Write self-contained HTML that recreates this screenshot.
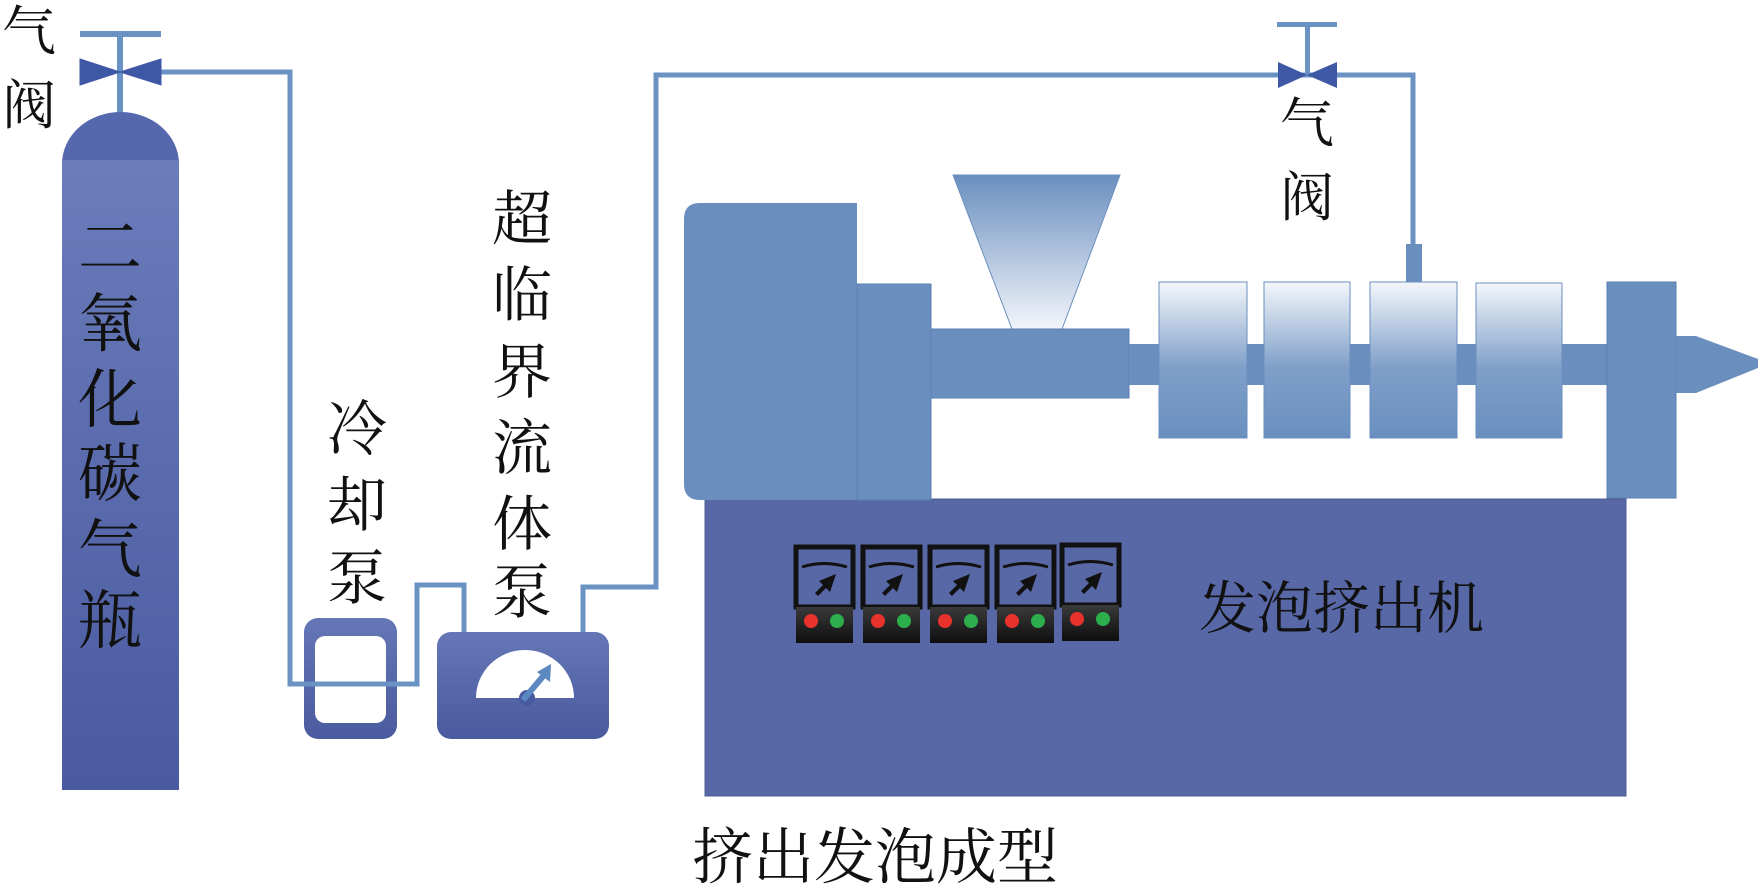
<!DOCTYPE html>
<html><head><meta charset="utf-8"><style>
html,body{margin:0;padding:0;background:#fff;}
svg{display:block;}
text{font-family:"Liberation Serif","Noto Serif CJK SC","Noto Sans CJK SC",serif;fill:#111;}
</style></head><body>
<svg width="1758" height="885" viewBox="0 0 1758 885" xmlns="http://www.w3.org/2000/svg">
<defs>
<linearGradient id="cyl" x1="0" y1="0" x2="0" y2="1"><stop offset="0" stop-color="#6a7cba"/><stop offset="1" stop-color="#4a5aa0"/></linearGradient>
<linearGradient id="pump" x1="0" y1="0" x2="0" y2="1"><stop offset="0" stop-color="#6577b6"/><stop offset="1" stop-color="#4a5a9e"/></linearGradient>
<linearGradient id="band" x1="0" y1="0" x2="0" y2="1"><stop offset="0" stop-color="#f4f7fb"/><stop offset="0.55" stop-color="#7f9fc9"/><stop offset="1" stop-color="#6a8fbf"/></linearGradient>
<linearGradient id="hop" x1="0" y1="0" x2="0" y2="1"><stop offset="0" stop-color="#6a8fbf"/><stop offset="1" stop-color="#f2f5fa"/></linearGradient>
<linearGradient id="ctl" x1="0" y1="0" x2="0" y2="1"><stop offset="0" stop-color="#3a3a3a"/><stop offset="1" stop-color="#0e0e0e"/></linearGradient>
</defs>

<g fill="none" stroke="#6a93c4" stroke-width="5">
<polyline points="160,72 290,72 290,684 417,684 417,585 464,585 464,634"/>
<polyline points="583,634 583,587 656,587 656,75 1413,75 1413,246"/>
</g>

<g fill="#3f58a6" stroke="#3f58a6">
<rect x="80" y="31" width="81" height="6" fill="#6a93c4" stroke="none"/>
<rect x="117" y="34" width="6" height="80" fill="#6a93c4" stroke="none"/>
<polygon points="80,59 120,72 80,85" />
<polygon points="161,59 120,72 161,85" />
</g>

<path d="M62,164 A58.5,52 0 0 1 179,164 Z" fill="#5567ad"/>
<rect x="62" y="160" width="117" height="630" fill="url(#cyl)"/>
<g font-size="64" text-anchor="middle">
<text x="110" y="270">二</text><text x="110" y="346">氧</text><text x="110" y="422">化</text>
<text x="110" y="496">碳</text><text x="110" y="572">气</text><text x="110" y="643">瓶</text>
</g>
<text x="2" y="50" font-size="54">气</text>
<text x="2" y="124" font-size="54">阀</text>

<rect x="304" y="618" width="93" height="121" rx="14" fill="url(#pump)"/>
<rect x="315" y="636" width="71" height="87" rx="10" fill="#fff"/>
<polyline points="290,684 417,684" stroke="#6a93c4" stroke-width="5" fill="none"/>

<rect x="437" y="632" width="172" height="107" rx="14" fill="url(#pump)"/>
<path d="M476,698 A49,48 0 0 1 574,698 Z" fill="#fff"/>
<circle cx="527" cy="698" r="8" fill="#4a5aa0"/>
<line x1="523" y1="700" x2="545" y2="674" stroke="#5b88c0" stroke-width="6"/>
<polygon points="551,664 537,672 550,682" fill="#5b88c0"/>

<g font-size="60" text-anchor="middle">
<text x="357" y="450">冷</text><text x="357" y="526">却</text><text x="357" y="599">泵</text>
<text x="522" y="240">超</text><text x="522" y="316">临</text><text x="522" y="393">界</text>
<text x="522" y="469">流</text><text x="522" y="545">体</text><text x="522" y="613">泵</text>
</g>

<rect x="705" y="499" width="921" height="297" fill="#5868a6" stroke="#4e5d98"/>
<path d="M700,203 L857,203 L857,500 L700,500 Q684,500 684,484 L684,219 Q684,203 700,203 Z" fill="#6a8fbf"/>
<rect x="857" y="284" width="74" height="216" fill="#6a8fbf" stroke="#5a7fb0"/>
<polygon points="953,175 1120,175 1062,329 1012,329" fill="url(#hop)" stroke="#6a8fbf"/>
<rect x="931" y="329" width="198" height="69" fill="#6a8fbf" stroke="#5a7fb0"/>
<rect x="1129" y="344" width="478" height="41" fill="#6a8fbf"/>
<rect x="1406" y="244" width="16" height="40" fill="#6a8fbf"/>
<g fill="url(#band)" stroke="#6a8fbf">
<rect x="1159" y="282" width="88" height="156"/>
<rect x="1264" y="282" width="86" height="156"/>
<rect x="1370" y="282" width="87" height="156"/>
<rect x="1476" y="283" width="86" height="155"/>
</g>
<rect x="1607" y="282" width="69" height="216" fill="#6a8fbf" stroke="#5a7fb0"/>
<polygon points="1676,336 1696,336 1758,359 1758,368 1696,393 1676,393" fill="#6a8fbf"/>

<g id="u">
<rect x="796" y="547" width="57" height="60" fill="#5868a6" stroke="#111" stroke-width="5"/>
<path d="M802,567 Q824,560 847,567" stroke="#111" stroke-width="3" fill="none"/>
<polygon points="836,574 830,592 826,588 818,596 815,593 823,585 819,581" fill="#111"/>
<rect x="796" y="607" width="57" height="36" fill="url(#ctl)"/>
<circle cx="811" cy="621" r="7" fill="#e8332c"/>
<circle cx="837" cy="621" r="7" fill="#2dae4c"/>
</g>
<use href="#u" x="67"/><use href="#u" x="134"/><use href="#u" x="201"/><use href="#u" x="266" y="-2"/>

<text x="1199" y="628" font-size="57">发泡挤出机</text>

<rect x="1277" y="22" width="60" height="5" fill="#6a93c4"/>
<rect x="1305" y="24" width="5" height="50" fill="#6a93c4"/>
<polygon points="1278,62 1307,75 1278,88" fill="#3f58a6"/>
<polygon points="1337,62 1307,75 1337,88" fill="#3f58a6"/>
<text x="1307" y="142" font-size="54" text-anchor="middle">气</text>
<text x="1307" y="216" font-size="54" text-anchor="middle">阀</text>

<text x="692" y="878" font-size="61">挤出发泡成型</text>
</svg>
</body></html>
